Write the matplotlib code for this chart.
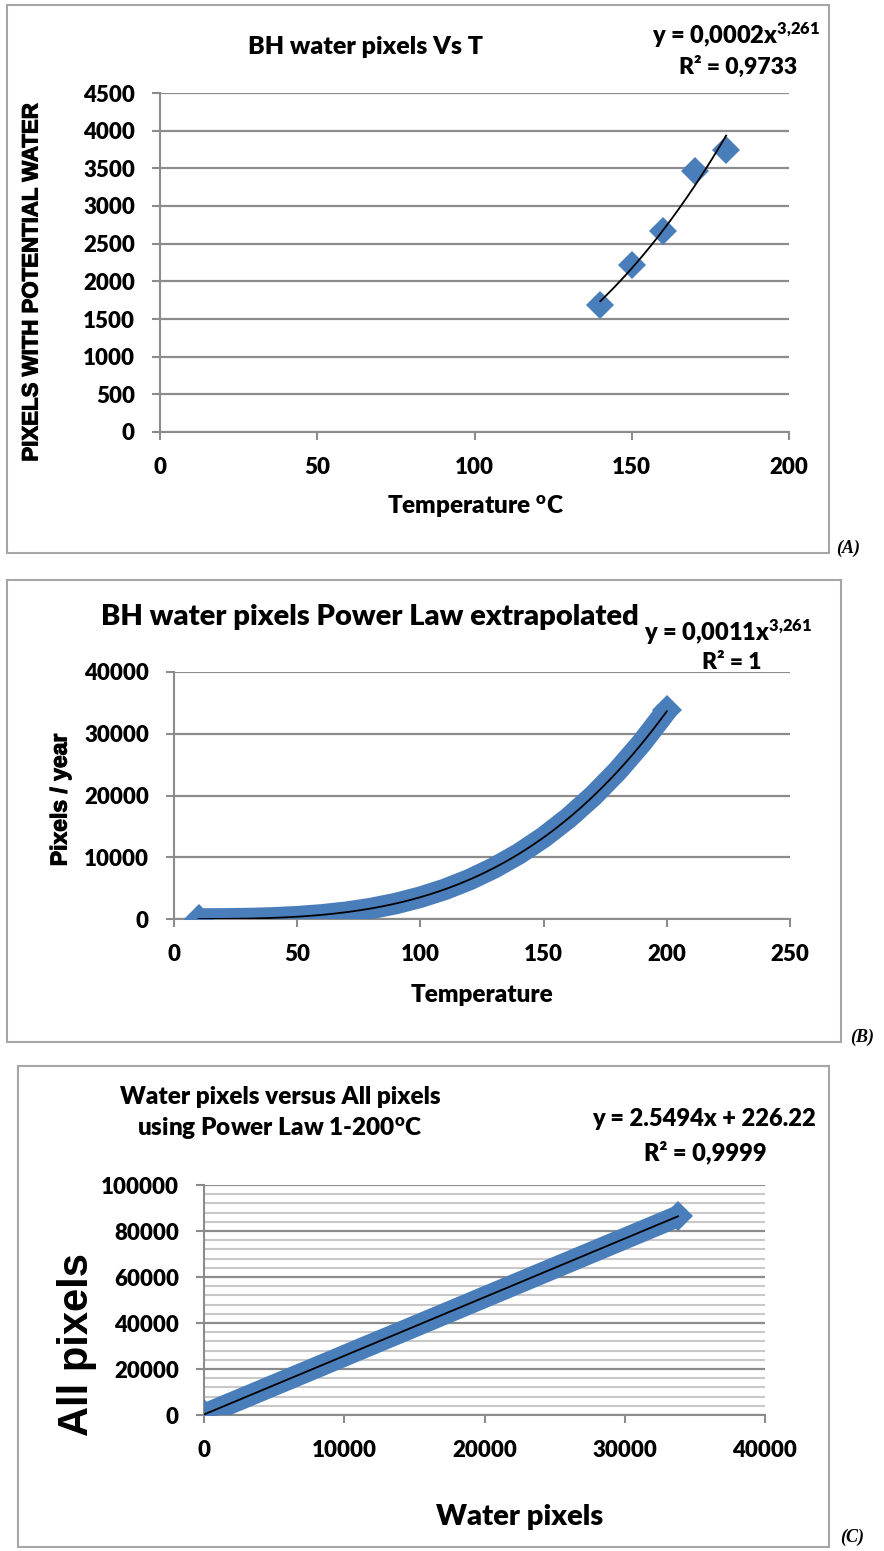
import numpy as np
import matplotlib
matplotlib.use("Agg")
import matplotlib.pyplot as plt
import matplotlib.patheffects as pe
from matplotlib.patches import Rectangle

W, H = 884, 1551

# (A) measured points
temp_a = [140, 150, 160, 170, 180]
pix_a = [1690, 2220, 2670, 3460, 3750]

# (B) power law extrapolated series
temp_b = [10, 20, 30, 40, 50, 60, 70, 80, 90, 100,
          110, 120, 130, 140, 150, 160, 170, 180, 190, 200]
pix_b = [2, 19, 70, 180, 370, 670, 1100, 1700, 2500, 3530,
         4810, 6390, 8300, 10560, 13230, 16330, 19890, 23970, 28590, 33800]

# (C) water pixels vs all pixels
water_c = pix_b
all_c = [230, 270, 410, 680, 1160, 1930, 3040, 4570, 6600, 9220,
         12490, 16510, 21370, 27160, 33950, 41850, 50940, 61340, 73120, 86400]

BLUE = "#4A7EBB"
GRID = "#8c8c8c"
TF = "Lato"              # calibri-like
AF = "Liberation Sans"   # arial-like for the y titles
WT = "heavy"
THICK = [pe.withStroke(linewidth=0.8, foreground="black")]

plt.rcParams["font.family"] = TF
plt.rcParams["font.weight"] = WT
plt.rcParams["mathtext.fontset"] = "custom"
plt.rcParams["mathtext.rm"] = "Lato:heavy"
plt.rcParams["mathtext.it"] = "Lato:heavy"
plt.rcParams["mathtext.bf"] = "Lato:heavy"

fig = plt.figure(figsize=(W / 100, H / 100), dpi=100)


def box(l, t, r, b):
    return [l / W, 1 - b / H, (r - l) / W, (b - t) / H]


def txt(x, y, s, **kw):
    kw.setdefault("weight", WT)
    fig.text(x / W, 1 - y / H, s, **kw)


def frame(l, t, r, b):
    fig.patches.append(Rectangle((l / W, 1 - b / H), (r - l) / W, (b - t) / H,
                                 transform=fig.transFigure, fill=False,
                                 edgecolor="#a6a6a6", lw=1.5))


def style(ax):
    for s in ["top", "right"]:
        ax.spines[s].set_visible(False)
    for s in ["left", "bottom"]:
        ax.spines[s].set_color(GRID)
        ax.spines[s].set_linewidth(1.5)
    ax.yaxis.grid(True, color=GRID, lw=1.6)
    ax.set_axisbelow(True)
    ax.tick_params(length=6, width=1.5, color=GRID, labelsize=16, pad=12)
    for lab in ax.get_xticklabels() + ax.get_yticklabels():
        lab.set_fontweight(WT)


def band(ax, x, y):
    # dense diamonds in excel merge into a thick band
    ax.plot(x, y, "-", color=BLUE, lw=15.5, solid_capstyle="butt",
            solid_joinstyle="round", zorder=3)
    ax.plot(x, y, "D", color=BLUE, ms=15, mew=0, markevery=[0, len(x) - 1],
            zorder=3)


# ---------------- (A) ----------------
frame(7, 5, 829, 553)
ax1 = fig.add_axes(box(160, 93, 789, 432))
ax1.plot(temp_a, pix_a, "D", color=BLUE, ms=14, mew=0, zorder=3)
k, c = np.polyfit(np.log(temp_a), np.log(pix_a), 1)
xt = np.linspace(min(temp_a), max(temp_a), 100)
ax1.plot(xt, np.exp(c) * xt ** k, color="black", lw=1.3, zorder=4)
ax1.set_xlim(0, 200)
ax1.set_ylim(0, 4500)
ax1.set_xticks(range(0, 201, 50))
ax1.set_yticks(range(0, 4501, 500))
style(ax1)
txt(365, 47, "BH water pixels Vs T", size=18, ha="center", va="center")
txt(820, 35, "y = 0,0002x$^{3{,}261}$", size=17, ha="right", va="center")
txt(797, 67, "R² = 0,9733", size=16.5, ha="right", va="center")
txt(475, 507, "Temperature $^{\\mathrm{o}}$C", size=17.5,
    ha="center", va="center")
txt(32, 282, "PIXELS WITH POTENTIAL WATER", family=AF, weight="bold",
    size=16, ha="center", va="center", rotation=90, path_effects=THICK)
txt(848, 548, "(A)", family="Liberation Serif", style="italic",
    weight="bold", size=13, ha="center", va="center")

# ---------------- (B) ----------------
frame(7, 580, 841, 1042)
ax2 = fig.add_axes(box(174, 672, 790, 919))
band(ax2, temp_b, pix_b)
k2, c2 = np.polyfit(np.log(temp_b), np.log(pix_b), 1)
xt2 = np.linspace(min(temp_b), max(temp_b), 200)
ax2.plot(xt2, np.exp(c2) * xt2 ** k2, color="black", lw=1.3, zorder=4)
ax2.set_xlim(0, 250)
ax2.set_ylim(0, 40000)
ax2.set_xticks(range(0, 251, 50))
ax2.set_yticks(range(0, 40001, 10000))
style(ax2)
txt(370, 617, "BH water pixels Power Law extrapolated", size=21,
    ha="center", va="center")
txt(812, 632, "y = 0,0011x$^{3{,}261}$", size=17, ha="right", va="center")
txt(762, 662, "R² = 1", size=16.5, ha="right", va="center")
txt(482, 995, "Temperature", size=17.5, ha="center", va="center")
txt(60, 800, "Pixels / year", family=AF, weight="bold", size=16.5,
    ha="center", va="center", rotation=90, path_effects=THICK)
txt(862, 1037, "(B)", family="Liberation Serif", style="italic",
    weight="bold", size=13, ha="center", va="center")

# ---------------- (C) ----------------
frame(18, 1066, 829, 1547)
ax3 = fig.add_axes(box(204, 1185, 765, 1415))
ax3.set_xlim(0, 40000)
ax3.set_ylim(0, 100000)
ax3.set_xticks(range(0, 40001, 10000))
ax3.set_yticks(range(0, 100001, 20000))
ax3.set_yticks(range(0, 100001, 4000), minor=True)
ax3.yaxis.grid(True, which="minor", color="#c8c8c8", lw=1.5)
style(ax3)
ax3.tick_params(which="minor", length=0)
band(ax3, water_c, all_c)
m, b0 = np.polyfit(water_c, all_c, 1)
xt3 = np.array([min(water_c), max(water_c)])
ax3.plot(xt3, m * xt3 + b0, color="black", lw=1.3, zorder=4)
txt(280, 1097, "Water pixels versus All pixels", size=17.5,
    ha="center", va="center")
txt(280, 1129, "using Power Law 1-200$^{\\mathrm{o}}$C", size=17.5,
    ha="center", va="center")
txt(816, 1119, "y = 2.5494x + 226.22", size=17, ha="right", va="center")
txt(767, 1152, "R² = 0,9999", size=17, ha="right", va="center")
txt(520, 1517, "Water pixels", size=21, ha="center", va="center")
txt(77, 1345, "All pixels", family=AF, weight="bold", size=30,
    ha="center", va="center", rotation=90)
txt(852, 1537, "(C)", family="Liberation Serif", style="italic",
    weight="bold", size=13, ha="center", va="center")

fig.savefig("out.png", dpi=100)
